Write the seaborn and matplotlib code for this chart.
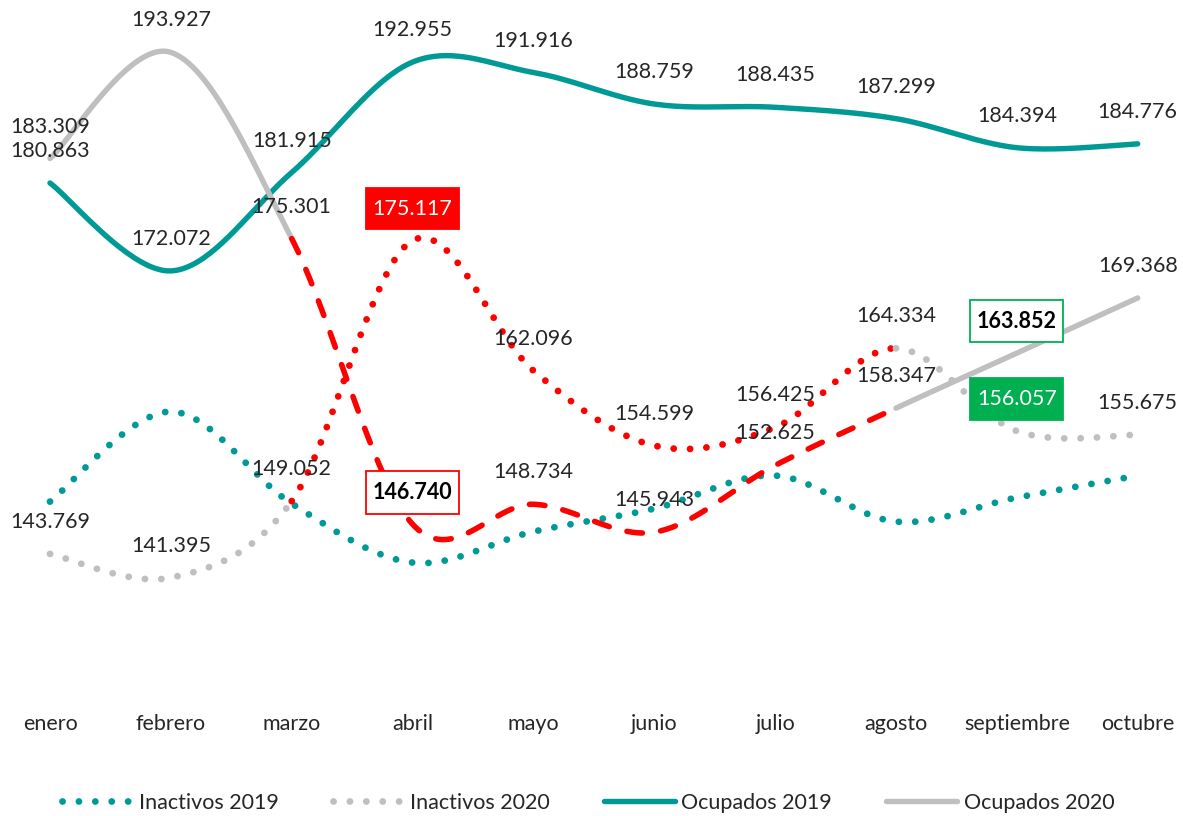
import numpy as np
import matplotlib
matplotlib.use('Agg')
import matplotlib.pyplot as plt
from matplotlib.lines import Line2D
from matplotlib.path import Path
import seaborn as sns

# --- Datos (miles de personas) ---
meses = ['enero', 'febrero', 'marzo', 'abril', 'mayo', 'junio',
         'julio', 'agosto', 'septiembre', 'octubre']
inactivos_2019 = [149.0, 158.0, 148.8, 142.9, 146.0, 148.3, 151.6, 147.0, 149.4, 151.6]
inactivos_2020 = [143.769, 141.395, 149.052, 175.117, 162.096, 154.599,
                  156.425, 164.334, 156.057, 155.675]
ocupados_2019 = [180.863, 172.072, 181.915, 192.955, 191.916, 188.759,
                 188.435, 187.299, 184.394, 184.776]
ocupados_2020 = [183.309, 193.927, 175.301, 146.740, 148.734, 145.943,
                 152.625, 158.347, 163.852, 169.368]

# tramo marzo-agosto resaltado en rojo
ini_rojo, fin_rojo = 2, 7

TEAL = '#009A96'
GRIS = '#BFBFBF'
ROJO = '#FF0000'
VERDE = '#00B050'
TEXTO = '#262626'
FS = 15.5

sns.set_style('white')
plt.rcParams['font.family'] = ['Lato', 'DejaVu Sans']


def suavizar(y, a, b, n=40):
    """Curva suavizada (tipo Excel) entre los puntos a y b."""
    p = np.column_stack([np.arange(len(y)), y]).astype(float)
    ext = np.vstack([p[0], p, p[-1]])
    xs, ys = [], []
    for i in range(a, b):
        p0, p1, p2, p3 = ext[i], ext[i + 1], ext[i + 2], ext[i + 3]
        c1 = p1 + (p2 - p0) / 6
        c2 = p2 - (p3 - p1) / 6
        t = np.linspace(0, 1, n, endpoint=(i == b - 1))[:, None]
        c = (1 - t) ** 3 * p1 + 3 * (1 - t) ** 2 * t * c1 + 3 * (1 - t) * t ** 2 * c2 + t ** 3 * p2
        xs.append(c[:, 0])
        ys.append(c[:, 1])
    return np.concatenate(xs), np.concatenate(ys)


def linea(ax, y, a, b, color, estilo, lw, cap, z):
    xs, ys = suavizar(y, a, b)
    sns.lineplot(x=xs, y=ys, ax=ax, color=color, linewidth=lw, sort=False,
                 estimator=None, zorder=z)
    ln = ax.lines[-1]
    ln.set_linestyle(estilo)
    ln.set_dash_capstyle(cap)
    ln.set_solid_capstyle('round')
    ln.set_clip_on(False)


def caja(x0, y0, width, height, mutation_size):
    # recuadro con más margen vertical que horizontal
    px, py = 0.30 * mutation_size, 0.50 * mutation_size
    x0, y0 = x0 - px, y0 - py
    x1, y1 = x0 + width + 2 * px, y0 + height + 2 * py
    return Path([(x0, y0), (x1, y0), (x1, y1), (x0, y1), (x0, y0)], closed=True)


fig = plt.figure(figsize=(11.83, 8.16), dpi=100)
ax = fig.add_axes([50 / 1183, 0.15245, 1087.7 / 1183, 0.8578])

punteado = (0, (0.01, 2.4))
guiones = (0, (2.8, 3.3))
n = len(meses)

# Inactivos 2019
linea(ax, inactivos_2019, 0, n - 1, TEAL, punteado, 4.9, 'round', 2)
# Inactivos 2020
linea(ax, inactivos_2020, 0, ini_rojo, GRIS, punteado, 4.9, 'round', 3)
linea(ax, inactivos_2020, ini_rojo, fin_rojo, ROJO, punteado, 4.9, 'round', 3)
linea(ax, inactivos_2020, fin_rojo, n - 1, GRIS, punteado, 4.9, 'round', 3)
# Ocupados 2019
linea(ax, ocupados_2019, 0, n - 1, TEAL, '-', 3.9, 'round', 4)
# Ocupados 2020
linea(ax, ocupados_2020, 0, ini_rojo, GRIS, '-', 3.9, 'round', 5)
linea(ax, ocupados_2020, ini_rojo, fin_rojo, ROJO, guiones, 4.0, 'round', 5)
linea(ax, ocupados_2020, fin_rojo, n - 1, GRIS, '-', 3.9, 'round', 5)

# --- Etiquetas de datos ---
destacados = {
    ('i20', 3): dict(fc=ROJO, ec=ROJO, color='white', weight='normal'),
    ('o20', 3): dict(fc='white', ec=ROJO, color='black', weight='bold'),
    ('o20', 8): dict(fc='white', ec=VERDE, color='black', weight='bold'),
    ('i20', 8): dict(fc=VERDE, ec=VERDE, color='white', weight='normal'),
}
for clave, serie in [('i20', inactivos_2020), ('o19', ocupados_2019), ('o20', ocupados_2020)]:
    for i, v in enumerate(serie):
        txt = f'{v:.3f}'
        if (clave, i) in destacados:
            d = destacados[(clave, i)]
            ax.annotate(txt, (i, v), xytext=(0, 23), textcoords='offset points',
                        ha='center', va='center', fontsize=FS, color=d['color'],
                        fontweight=d['weight'], zorder=10, annotation_clip=False,
                        bbox=dict(boxstyle=caja, fc=d['fc'], ec=d['ec'], lw=1.3))
        else:
            ax.annotate(txt, (i, v), xytext=(0, 23), textcoords='offset points',
                        ha='center', va='center', fontsize=FS, color=TEXTO,
                        zorder=10, annotation_clip=False)

ax.set_xlim(0, n - 1)
ax.set_ylim(130, 200)
ax.set_xticks(range(n))
ax.set_xticklabels(meses, fontsize=FS, color=TEXTO)
ax.tick_params(axis='x', length=0, pad=16)
ax.set_yticks([])
ax.set_xlabel('')
ax.set_ylabel('')
sns.despine(ax=ax, left=True, bottom=True)
ax.patch.set_alpha(0)

# --- Leyenda ---
handles = [
    Line2D([], [], color=TEAL, lw=4.9, linestyle=punteado, dash_capstyle='round'),
    Line2D([], [], color=GRIS, lw=4.9, linestyle=punteado, dash_capstyle='round'),
    Line2D([], [], color=TEAL, lw=3.9, solid_capstyle='round'),
    Line2D([], [], color=GRIS, lw=3.9, solid_capstyle='round'),
]
etiquetas = ['Inactivos 2019', 'Inactivos 2020', 'Ocupados 2019', 'Ocupados 2020']
leg = fig.legend(handles, etiquetas, loc='center', bbox_to_anchor=(0.497, 0.016),
                 ncol=4, frameon=False, fontsize=FS, handlelength=3.3,
                 handletextpad=0.3, columnspacing=2.5)
for t in leg.get_texts():
    t.set_color(TEXTO)

fig.savefig('out.png', dpi=100)
